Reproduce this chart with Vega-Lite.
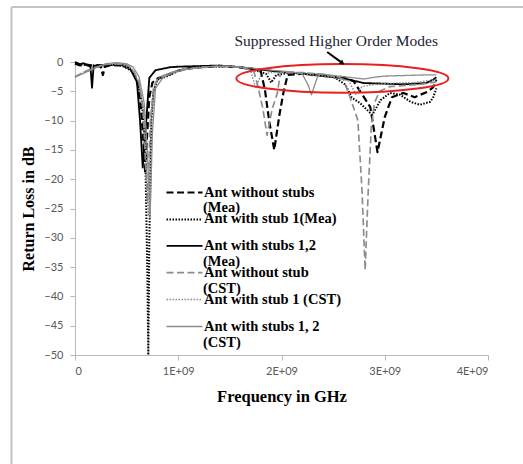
{
  "$schema": "https://vega.github.io/schema/vega-lite/v6.json",
  "autosize": "none",
  "width": 413,
  "height": 293,
  "padding": {"left": 75, "top": 62, "right": 35, "bottom": 109},
  "background": "white",
  "config": {"view": {"stroke": null}, "legend": {"rowPadding": 9.9}},
  "datasets": {
    "curves": [
      {"s":"Ant without stubs (Mea)","f":0,"db":-0.3},{"s":"Ant without stubs (Mea)","f":5e7,"db":-0.6},{"s":"Ant without stubs (Mea)","f":1e8,"db":-0.4},{"s":"Ant without stubs (Mea)","f":2e8,"db":-0.7},{"s":"Ant without stubs (Mea)","f":2.5e8,"db":-0.8},{"s":"Ant without stubs (Mea)","f":2.7e8,"db":-2.2},{"s":"Ant without stubs (Mea)","f":2.9e8,"db":-0.8},{"s":"Ant without stubs (Mea)","f":3.5e8,"db":-0.5},{"s":"Ant without stubs (Mea)","f":4.5e8,"db":-0.6},{"s":"Ant without stubs (Mea)","f":5.2e8,"db":-1.0},{"s":"Ant without stubs (Mea)","f":5.7e8,"db":-2.0},{"s":"Ant without stubs (Mea)","f":6.1e8,"db":-4.0},{"s":"Ant without stubs (Mea)","f":6.4e8,"db":-8},{"s":"Ant without stubs (Mea)","f":6.6e8,"db":-13},{"s":"Ant without stubs (Mea)","f":6.8e8,"db":-19},{"s":"Ant without stubs (Mea)","f":7.0e8,"db":-12},{"s":"Ant without stubs (Mea)","f":7.2e8,"db":-6},{"s":"Ant without stubs (Mea)","f":7.5e8,"db":-3.5},{"s":"Ant without stubs (Mea)","f":8e8,"db":-2.8},{"s":"Ant without stubs (Mea)","f":9e8,"db":-2.2},{"s":"Ant without stubs (Mea)","f":1.0e9,"db":-1.5},{"s":"Ant without stubs (Mea)","f":1.1e9,"db":-1.1},{"s":"Ant without stubs (Mea)","f":1.2e9,"db":-0.9},{"s":"Ant without stubs (Mea)","f":1.4e9,"db":-0.7},{"s":"Ant without stubs (Mea)","f":1.6e9,"db":-0.9},{"s":"Ant without stubs (Mea)","f":1.8e9,"db":-1.6},{"s":"Ant without stubs (Mea)","f":1.84e9,"db":-4.8},{"s":"Ant without stubs (Mea)","f":1.88e9,"db":-10},{"s":"Ant without stubs (Mea)","f":1.93e9,"db":-15},{"s":"Ant without stubs (Mea)","f":1.98e9,"db":-9},{"s":"Ant without stubs (Mea)","f":2.02e9,"db":-5.1},{"s":"Ant without stubs (Mea)","f":2.06e9,"db":-2.2},{"s":"Ant without stubs (Mea)","f":2.2e9,"db":-2.0},{"s":"Ant without stubs (Mea)","f":2.4e9,"db":-2.3},{"s":"Ant without stubs (Mea)","f":2.6e9,"db":-2.6},{"s":"Ant without stubs (Mea)","f":2.7e9,"db":-3.3},{"s":"Ant without stubs (Mea)","f":2.74e9,"db":-4.4},{"s":"Ant without stubs (Mea)","f":2.86e9,"db":-7.7},{"s":"Ant without stubs (Mea)","f":2.93e9,"db":-15.4},{"s":"Ant without stubs (Mea)","f":3.0e9,"db":-9.4},{"s":"Ant without stubs (Mea)","f":3.07e9,"db":-6.0},{"s":"Ant without stubs (Mea)","f":3.18e9,"db":-5.3},{"s":"Ant without stubs (Mea)","f":3.29e9,"db":-6.0},{"s":"Ant without stubs (Mea)","f":3.41e9,"db":-5.1},{"s":"Ant without stubs (Mea)","f":3.47e9,"db":-4.3},{"s":"Ant without stubs (Mea)","f":3.5e9,"db":-3.0},

      {"s":"Ant with stub 1(Mea)","f":0,"db":-0.2},{"s":"Ant with stub 1(Mea)","f":1e8,"db":-0.5},{"s":"Ant with stub 1(Mea)","f":2e8,"db":-0.6},{"s":"Ant with stub 1(Mea)","f":3.5e8,"db":-0.5},{"s":"Ant with stub 1(Mea)","f":4.5e8,"db":-0.6},{"s":"Ant with stub 1(Mea)","f":5.5e8,"db":-1.5},{"s":"Ant with stub 1(Mea)","f":6e8,"db":-3},{"s":"Ant with stub 1(Mea)","f":6.5e8,"db":-7},{"s":"Ant with stub 1(Mea)","f":6.8e8,"db":-15},{"s":"Ant with stub 1(Mea)","f":7.0e8,"db":-35},{"s":"Ant with stub 1(Mea)","f":7.1e8,"db":-50},{"s":"Ant with stub 1(Mea)","f":7.2e8,"db":-30},{"s":"Ant with stub 1(Mea)","f":7.4e8,"db":-10},{"s":"Ant with stub 1(Mea)","f":7.6e8,"db":-5},{"s":"Ant with stub 1(Mea)","f":8e8,"db":-3},{"s":"Ant with stub 1(Mea)","f":9e8,"db":-2.4},{"s":"Ant with stub 1(Mea)","f":1.0e9,"db":-1.5},{"s":"Ant with stub 1(Mea)","f":1.1e9,"db":-1.1},{"s":"Ant with stub 1(Mea)","f":1.3e9,"db":-0.8},{"s":"Ant with stub 1(Mea)","f":1.5e9,"db":-0.7},{"s":"Ant with stub 1(Mea)","f":1.7e9,"db":-1.1},{"s":"Ant with stub 1(Mea)","f":1.85e9,"db":-2.0},{"s":"Ant with stub 1(Mea)","f":1.9e9,"db":-3.5},{"s":"Ant with stub 1(Mea)","f":1.95e9,"db":-2.2},{"s":"Ant with stub 1(Mea)","f":2.1e9,"db":-1.8},{"s":"Ant with stub 1(Mea)","f":2.3e9,"db":-2.1},{"s":"Ant with stub 1(Mea)","f":2.5e9,"db":-2.4},{"s":"Ant with stub 1(Mea)","f":2.62e9,"db":-3.9},{"s":"Ant with stub 1(Mea)","f":2.68e9,"db":-6.1},{"s":"Ant with stub 1(Mea)","f":2.76e9,"db":-7},{"s":"Ant with stub 1(Mea)","f":2.83e9,"db":-8.2},{"s":"Ant with stub 1(Mea)","f":2.88e9,"db":-9},{"s":"Ant with stub 1(Mea)","f":2.96e9,"db":-6.5},{"s":"Ant with stub 1(Mea)","f":3.05e9,"db":-5.3},{"s":"Ant with stub 1(Mea)","f":3.15e9,"db":-5.6},{"s":"Ant with stub 1(Mea)","f":3.25e9,"db":-6.8},{"s":"Ant with stub 1(Mea)","f":3.34e9,"db":-7.3},{"s":"Ant with stub 1(Mea)","f":3.44e9,"db":-6.8},{"s":"Ant with stub 1(Mea)","f":3.47e9,"db":-6.0},{"s":"Ant with stub 1(Mea)","f":3.5e9,"db":-4.5},

      {"s":"Ant with stubs 1,2 (Mea)","f":0,"db":0},{"s":"Ant with stubs 1,2 (Mea)","f":5e7,"db":-0.4},{"s":"Ant with stubs 1,2 (Mea)","f":8e7,"db":-0.2},{"s":"Ant with stubs 1,2 (Mea)","f":1.2e8,"db":-0.6},{"s":"Ant with stubs 1,2 (Mea)","f":1.5e8,"db":-0.8},{"s":"Ant with stubs 1,2 (Mea)","f":1.65e8,"db":-4.4},{"s":"Ant with stubs 1,2 (Mea)","f":1.8e8,"db":-0.7},{"s":"Ant with stubs 1,2 (Mea)","f":2.2e8,"db":-0.5},{"s":"Ant with stubs 1,2 (Mea)","f":3e8,"db":-0.6},{"s":"Ant with stubs 1,2 (Mea)","f":4e8,"db":-0.4},{"s":"Ant with stubs 1,2 (Mea)","f":4.8e8,"db":-0.6},{"s":"Ant with stubs 1,2 (Mea)","f":5.3e8,"db":-1.0},{"s":"Ant with stubs 1,2 (Mea)","f":6e8,"db":-3.4},{"s":"Ant with stubs 1,2 (Mea)","f":6.3e8,"db":-10},{"s":"Ant with stubs 1,2 (Mea)","f":6.56e8,"db":-18},{"s":"Ant with stubs 1,2 (Mea)","f":6.9e8,"db":-10},{"s":"Ant with stubs 1,2 (Mea)","f":7.2e8,"db":-2.7},{"s":"Ant with stubs 1,2 (Mea)","f":7.8e8,"db":-1.4},{"s":"Ant with stubs 1,2 (Mea)","f":9.2e8,"db":-0.9},{"s":"Ant with stubs 1,2 (Mea)","f":1.0e9,"db":-0.8},{"s":"Ant with stubs 1,2 (Mea)","f":1.2e9,"db":-0.7},{"s":"Ant with stubs 1,2 (Mea)","f":1.4e9,"db":-0.6},{"s":"Ant with stubs 1,2 (Mea)","f":1.6e9,"db":-0.9},{"s":"Ant with stubs 1,2 (Mea)","f":1.8e9,"db":-1.3},{"s":"Ant with stubs 1,2 (Mea)","f":2.0e9,"db":-1.7},{"s":"Ant with stubs 1,2 (Mea)","f":2.2e9,"db":-2.0},{"s":"Ant with stubs 1,2 (Mea)","f":2.4e9,"db":-2.4},{"s":"Ant with stubs 1,2 (Mea)","f":2.6e9,"db":-2.8},{"s":"Ant with stubs 1,2 (Mea)","f":2.7e9,"db":-3.2},{"s":"Ant with stubs 1,2 (Mea)","f":2.8e9,"db":-3.6},{"s":"Ant with stubs 1,2 (Mea)","f":3.0e9,"db":-3.7},{"s":"Ant with stubs 1,2 (Mea)","f":3.2e9,"db":-3.8},{"s":"Ant with stubs 1,2 (Mea)","f":3.4e9,"db":-3.6},{"s":"Ant with stubs 1,2 (Mea)","f":3.47e9,"db":-3.0},{"s":"Ant with stubs 1,2 (Mea)","f":3.5e9,"db":-2.6},

      {"s":"Ant without stub (CST)","f":0,"db":-2.5},{"s":"Ant without stub (CST)","f":1e8,"db":-1.6},{"s":"Ant without stub (CST)","f":2e8,"db":-0.9},{"s":"Ant without stub (CST)","f":3e8,"db":-0.4},{"s":"Ant without stub (CST)","f":4e8,"db":-0.3},{"s":"Ant without stub (CST)","f":5e8,"db":-0.5},{"s":"Ant without stub (CST)","f":5.6e8,"db":-1.2},{"s":"Ant without stub (CST)","f":6.2e8,"db":-3.5},{"s":"Ant without stub (CST)","f":6.6e8,"db":-8},{"s":"Ant without stub (CST)","f":7.0e8,"db":-24},{"s":"Ant without stub (CST)","f":7.3e8,"db":-10},{"s":"Ant without stub (CST)","f":7.6e8,"db":-4.5},{"s":"Ant without stub (CST)","f":8e8,"db":-2.8},{"s":"Ant without stub (CST)","f":9e8,"db":-2.0},{"s":"Ant without stub (CST)","f":1.0e9,"db":-1.4},{"s":"Ant without stub (CST)","f":1.2e9,"db":-0.9},{"s":"Ant without stub (CST)","f":1.4e9,"db":-0.7},{"s":"Ant without stub (CST)","f":1.6e9,"db":-0.9},{"s":"Ant without stub (CST)","f":1.73e9,"db":-1.5},{"s":"Ant without stub (CST)","f":1.77e9,"db":-4},{"s":"Ant without stub (CST)","f":1.82e9,"db":-8},{"s":"Ant without stub (CST)","f":1.86e9,"db":-12.5},{"s":"Ant without stub (CST)","f":1.91e9,"db":-8},{"s":"Ant without stub (CST)","f":1.96e9,"db":-5.3},{"s":"Ant without stub (CST)","f":1.99e9,"db":-1.8},{"s":"Ant without stub (CST)","f":2.2e9,"db":-1.8},{"s":"Ant without stub (CST)","f":2.4e9,"db":-2.1},{"s":"Ant without stub (CST)","f":2.55e9,"db":-2.6},{"s":"Ant without stub (CST)","f":2.6e9,"db":-3.0},{"s":"Ant without stub (CST)","f":2.65e9,"db":-5.3},{"s":"Ant without stub (CST)","f":2.74e9,"db":-10},{"s":"Ant without stub (CST)","f":2.78e9,"db":-22},{"s":"Ant without stub (CST)","f":2.81e9,"db":-35.5},{"s":"Ant without stub (CST)","f":2.84e9,"db":-22},{"s":"Ant without stub (CST)","f":2.87e9,"db":-11},{"s":"Ant without stub (CST)","f":2.9e9,"db":-7},{"s":"Ant without stub (CST)","f":2.95e9,"db":-5},{"s":"Ant without stub (CST)","f":3.05e9,"db":-4.2},{"s":"Ant without stub (CST)","f":3.2e9,"db":-4.0},{"s":"Ant without stub (CST)","f":3.35e9,"db":-3.8},{"s":"Ant without stub (CST)","f":3.5e9,"db":-3.4},

      {"s":"Ant with stub 1 (CST)","f":0,"db":-2.5},{"s":"Ant with stub 1 (CST)","f":1e8,"db":-1.6},{"s":"Ant with stub 1 (CST)","f":2e8,"db":-0.9},{"s":"Ant with stub 1 (CST)","f":3e8,"db":-0.4},{"s":"Ant with stub 1 (CST)","f":4.5e8,"db":-0.4},{"s":"Ant with stub 1 (CST)","f":5.5e8,"db":-1.2},{"s":"Ant with stub 1 (CST)","f":6.2e8,"db":-3.5},{"s":"Ant with stub 1 (CST)","f":6.7e8,"db":-9},{"s":"Ant with stub 1 (CST)","f":7.1e8,"db":-26},{"s":"Ant with stub 1 (CST)","f":7.4e8,"db":-9},{"s":"Ant with stub 1 (CST)","f":7.7e8,"db":-4},{"s":"Ant with stub 1 (CST)","f":8.2e8,"db":-2.6},{"s":"Ant with stub 1 (CST)","f":9e8,"db":-2.0},{"s":"Ant with stub 1 (CST)","f":1.0e9,"db":-1.4},{"s":"Ant with stub 1 (CST)","f":1.2e9,"db":-0.9},{"s":"Ant with stub 1 (CST)","f":1.4e9,"db":-0.7},{"s":"Ant with stub 1 (CST)","f":1.6e9,"db":-0.9},{"s":"Ant with stub 1 (CST)","f":1.7e9,"db":-1.4},{"s":"Ant with stub 1 (CST)","f":1.75e9,"db":-4.5},{"s":"Ant with stub 1 (CST)","f":1.8e9,"db":-2.2},{"s":"Ant with stub 1 (CST)","f":1.9e9,"db":-1.8},{"s":"Ant with stub 1 (CST)","f":2.1e9,"db":-1.8},{"s":"Ant with stub 1 (CST)","f":2.3e9,"db":-2.2},{"s":"Ant with stub 1 (CST)","f":2.5e9,"db":-2.6},{"s":"Ant with stub 1 (CST)","f":2.65e9,"db":-3.2},{"s":"Ant with stub 1 (CST)","f":2.72e9,"db":-5.5},{"s":"Ant with stub 1 (CST)","f":2.78e9,"db":-4.2},{"s":"Ant with stub 1 (CST)","f":2.9e9,"db":-3.8},{"s":"Ant with stub 1 (CST)","f":3.1e9,"db":-3.6},{"s":"Ant with stub 1 (CST)","f":3.3e9,"db":-3.5},{"s":"Ant with stub 1 (CST)","f":3.5e9,"db":-3.0},

      {"s":"Ant with stubs 1, 2 (CST)","f":0,"db":-2.6},{"s":"Ant with stubs 1, 2 (CST)","f":1e8,"db":-1.8},{"s":"Ant with stubs 1, 2 (CST)","f":2e8,"db":-1.0},{"s":"Ant with stubs 1, 2 (CST)","f":3e8,"db":-0.3},{"s":"Ant with stubs 1, 2 (CST)","f":4e8,"db":-0.1},{"s":"Ant with stubs 1, 2 (CST)","f":5e8,"db":-0.3},{"s":"Ant with stubs 1, 2 (CST)","f":5.6e8,"db":-0.8},{"s":"Ant with stubs 1, 2 (CST)","f":6.2e8,"db":-2.5},{"s":"Ant with stubs 1, 2 (CST)","f":6.7e8,"db":-7},{"s":"Ant with stubs 1, 2 (CST)","f":7.0e8,"db":-15},{"s":"Ant with stubs 1, 2 (CST)","f":7.27e8,"db":-26.6},{"s":"Ant with stubs 1, 2 (CST)","f":7.5e8,"db":-12},{"s":"Ant with stubs 1, 2 (CST)","f":7.8e8,"db":-4.5},{"s":"Ant with stubs 1, 2 (CST)","f":8.5e8,"db":-2.7},{"s":"Ant with stubs 1, 2 (CST)","f":9.5e8,"db":-1.8},{"s":"Ant with stubs 1, 2 (CST)","f":1.1e9,"db":-1.2},{"s":"Ant with stubs 1, 2 (CST)","f":1.3e9,"db":-0.8},{"s":"Ant with stubs 1, 2 (CST)","f":1.5e9,"db":-0.7},{"s":"Ant with stubs 1, 2 (CST)","f":1.7e9,"db":-1.0},{"s":"Ant with stubs 1, 2 (CST)","f":1.9e9,"db":-1.4},{"s":"Ant with stubs 1, 2 (CST)","f":2.1e9,"db":-1.7},{"s":"Ant with stubs 1, 2 (CST)","f":2.2e9,"db":-2.0},{"s":"Ant with stubs 1, 2 (CST)","f":2.26e9,"db":-4},{"s":"Ant with stubs 1, 2 (CST)","f":2.29e9,"db":-5.6},{"s":"Ant with stubs 1, 2 (CST)","f":2.32e9,"db":-4},{"s":"Ant with stubs 1, 2 (CST)","f":2.36e9,"db":-2.0},{"s":"Ant with stubs 1, 2 (CST)","f":2.5e9,"db":-2.3},{"s":"Ant with stubs 1, 2 (CST)","f":2.7e9,"db":-2.7},{"s":"Ant with stubs 1, 2 (CST)","f":2.8e9,"db":-2.9},{"s":"Ant with stubs 1, 2 (CST)","f":2.9e9,"db":-2.6},{"s":"Ant with stubs 1, 2 (CST)","f":3.0e9,"db":-2.4},{"s":"Ant with stubs 1, 2 (CST)","f":3.2e9,"db":-2.3},{"s":"Ant with stubs 1, 2 (CST)","f":3.4e9,"db":-2.2},{"s":"Ant with stubs 1, 2 (CST)","f":3.5e9,"db":-2.2}
    ],
    "note": [{"label": "Suppressed Higher Order Modes", "f": 2.53e9, "db": 3.6, "fa": 2.442e9, "dba": 1.7, "fb": 2.59e9, "dbb": -0.2, "fe": 2.59e9, "dbe": -2.8}]
  },
  "layer": [
    {
      "data": {"name": "curves"},
      "mark": {"type": "line", "strokeCap": "butt", "strokeJoin": "round"},
      "encoding": {
        "x": {
          "field": "f", "type": "quantitative",
          "scale": {"domain": [0, 4000000000], "nice": false},
          "axis": {
            "values": [0, 1000000000, 2000000000, 3000000000, 4000000000],
            "labelExpr": "datum.value == 0 ? '0' : format(datum.value / 1000000000, 'd') + 'E+09'",
            "grid": false, "domainColor": "#b8b8b8", "tickColor": "#b8b8b8", "tickSize": 5, "labelOverlap": false,
            "labelFont": "Lato", "labelFontSize": 11, "labelColor": "#595959", "labelPadding": 5,
            "title": "Frequency in GHz", "titleFont": "Liberation Serif", "titleFontSize": 16.5, "titleFontWeight": "bold", "titleColor": "#000000", "titlePadding": 12
          }
        },
        "y": {
          "field": "db", "type": "quantitative",
          "scale": {"domain": [-50, 0], "nice": false},
          "axis": {
            "values": [-50, -45, -40, -35, -30, -25, -20, -15, -10, -5, 0],
            "tickCount": 11,
            "grid": false, "domainColor": "#b8b8b8", "tickColor": "#b8b8b8", "tickSize": 5, "labelOverlap": false,
            "labelFont": "Lato", "labelFontSize": 11, "labelColor": "#595959", "labelPadding": 7,
            "title": "Return Loss in dB", "titleFont": "Liberation Serif", "titleFontSize": 16, "titleFontWeight": "bold", "titleColor": "#000000", "titlePadding": 7
          }
        },
        "color": {
          "field": "s", "type": "nominal",
          "scale": {
            "domain": ["Ant without stubs (Mea)", "Ant with stub 1(Mea)", "Ant with stubs 1,2 (Mea)", "Ant without stub (CST)", "Ant with stub 1 (CST)", "Ant with stubs 1, 2 (CST)"],
            "range": ["#000000", "#000000", "#000000", "#8c8c8c", "#8c8c8c", "#8c8c8c"]
          },
          "legend": {
            "orient": "none", "legendX": 108, "legendY": 120, "title": null, "padding": 0,
            "symbolType": "M -3 0 L 1 0", "symbolSize": 324, "symbolStrokeWidth": 2,
            "labelFont": "Liberation Serif", "labelFontWeight": "bold", "labelFontSize": 14.5, "labelColor": "#000000",
            "labelLimit": 400, "labelOffset": 0, "labelBaseline": "middle",
            "labelExpr": "indexof(datum.label, 'stub 1') >= 0 && indexof(datum.label, 'stubs') < 0 ? datum.label : split(replace(datum.label, ' (', '|('), '|')[0]"
          }
        },
        "strokeDash": {
          "field": "s", "type": "nominal",
          "scale": {
            "domain": ["Ant without stubs (Mea)", "Ant with stub 1(Mea)", "Ant with stubs 1,2 (Mea)", "Ant without stub (CST)", "Ant with stub 1 (CST)", "Ant with stubs 1, 2 (CST)"],
            "range": [[7, 3.5], [1.5, 1.5], [1, 0], [7, 3.5], [1.5, 1.5], [1, 0]]
          }
        },
        "strokeWidth": {
          "field": "s", "type": "nominal",
          "scale": {
            "domain": ["Ant without stubs (Mea)", "Ant with stub 1(Mea)", "Ant with stubs 1,2 (Mea)", "Ant without stub (CST)", "Ant with stub 1 (CST)", "Ant with stubs 1, 2 (CST)"],
            "range": [2.2, 1.3, 2.6, 2, 1.3, 2.6]
          }
        }
      }
    },
    {
      "data": {"name": "curves"},
      "mark": {"type": "point", "opacity": 0, "filled": false},
      "encoding": {
        "shape": {
          "field": "s", "type": "nominal",
          "sort": ["Ant without stubs (Mea)", "Ant with stub 1(Mea)", "Ant with stubs 1,2 (Mea)", "Ant without stub (CST)", "Ant with stub 1 (CST)", "Ant with stubs 1, 2 (CST)"],
          "scale": {"range": ["circle", "circle", "circle", "circle", "circle", "circle"]},
          "legend": {
            "orient": "none", "legendX": 108, "legendY": 136, "title": null, "padding": 0,
            "symbolSize": 324, "symbolStrokeWidth": 2, "symbolOpacity": 0,
            "labelFont": "Liberation Serif", "labelFontWeight": "bold", "labelFontSize": 14.5, "labelColor": "#000000",
            "labelLimit": 400, "labelOffset": 0, "rowPadding": 7.9, "labelBaseline": "middle",
            "labelExpr": "indexof(datum.label, 'stub 1(') >= 0 || indexof(datum.label, 'stub 1 (') >= 0 ? '' : (indexof(datum.label, '(Mea)') >= 0 ? '(Mea)' : '(CST)')"
          }
        }
      }
    },
    {
      "data": {"values": [{}]},
      "mark": {"type": "rule", "color": "#c4c4c4", "strokeWidth": 2},
      "encoding": {
        "x": {"datum": -615000000, "type": "quantitative"},
        "y": {"datum": 9.39, "type": "quantitative"},
        "y2": {"datum": -70}
      }
    },
    {
      "data": {"values": [{}]},
      "mark": {"type": "rule", "color": "#c4c4c4", "strokeWidth": 2},
      "encoding": {
        "x": {"datum": -615000000, "type": "quantitative"},
        "x2": {"datum": 4600000000},
        "y": {"datum": 9.39, "type": "quantitative"}
      }
    },
    {
      "data": {"name": "note"},
      "mark": {"type": "point", "shape": "M -1 0 A 1 0.135 0 1 0 1 0 A 1 0.135 0 1 0 -1 0 Z", "size": 44944, "filled": false, "stroke": "#e8211f", "strokeWidth": 2, "opacity": 1},
      "encoding": {
        "x": {"field": "fe", "type": "quantitative"},
        "y": {"field": "dbe", "type": "quantitative"}
      }
    },
    {
      "data": {"name": "note"},
      "mark": {"type": "rule", "color": "#000000", "strokeWidth": 2},
      "encoding": {
        "x": {"field": "fa", "type": "quantitative"},
        "y": {"field": "dba", "type": "quantitative"},
        "x2": {"field": "fb"},
        "y2": {"field": "dbb"}
      }
    },
    {
      "data": {"name": "note"},
      "mark": {"type": "point", "shape": "triangle-up", "size": 30, "filled": true, "color": "#000000", "angle": 127, "opacity": 1},
      "encoding": {
        "x": {"field": "fb", "type": "quantitative"},
        "y": {"field": "dbb", "type": "quantitative"}
      }
    },
    {
      "data": {"name": "note"},
      "mark": {"type": "text", "font": "Liberation Serif", "fontSize": 15.5, "color": "#222233", "align": "center", "baseline": "middle"},
      "encoding": {
        "x": {"field": "f", "type": "quantitative"},
        "y": {"field": "db", "type": "quantitative"},
        "text": {"field": "label"}
      }
    }
  ]
}
